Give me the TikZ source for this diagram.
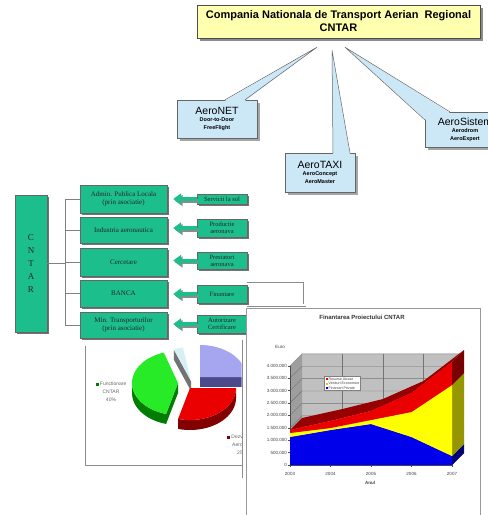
\documentclass[tikz,border=0pt]{standalone}
\usepackage{fontspec}
\setmainfont{Liberation Sans}
\newfontfamily\timesfont{Liberation Serif}
\usetikzlibrary{arrows.meta,shadows,calc}

\definecolor{titleyellow}{RGB}{255,255,176}
\definecolor{calloutblue}{RGB}{204,232,247}
\definecolor{orggreen}{RGB}{28,190,140}
\definecolor{piegreen}{RGB}{40,235,40}
\definecolor{piegreendark}{RGB}{0,125,0}
\definecolor{piered}{RGB}{235,0,0}
\definecolor{pieredside}{RGB}{130,0,0}
\definecolor{pieblue}{RGB}{165,165,240}
\definecolor{pieblueside}{RGB}{75,75,140}
\definecolor{piecyan}{RGB}{215,240,245}
\definecolor{areablue}{RGB}{0,0,235}
\definecolor{areabluedark}{RGB}{0,0,120}
\definecolor{areayellow}{RGB}{255,255,0}
\definecolor{areayellowdark}{RGB}{150,150,0}
\definecolor{areared}{RGB}{235,0,0}
\definecolor{arearedside}{RGB}{150,0,0}
\definecolor{wallgray}{RGB}{192,192,192}

\newcommand\subfont{\fontsize{5.5}{6}\selectfont\bfseries}

\begin{document}
\begin{tikzpicture}[x=1pt,y=-1pt,
  titlebox/.style={draw=black!70, fill=titleyellow, minimum width=283pt, minimum height=33pt, align=center, font=\fontsize{11}{13}\selectfont\bfseries, drop shadow={shadow xshift=3pt, shadow yshift=-3pt, fill=black!45, opacity=1}},
  callout/.style={draw=black!60, fill=calloutblue, align=center, inner sep=1pt, font=\fontsize{10.5}{8}\selectfont, drop shadow={shadow xshift=2.5pt, shadow yshift=-2.5pt, fill=black!35, opacity=1}},
  tipline/.style={draw=black!60, line width=0.5pt},
  orgbox/.style={draw=black!60, fill=orggreen, minimum width=87pt, align=center, inner sep=1pt, text=black!85, font=\timesfont\fontsize{7}{8}\selectfont, drop shadow={shadow xshift=2pt, shadow yshift=-2pt, fill=black!55, opacity=1}},
  tagbox/.style={draw=black!60, fill=orggreen, minimum width=50pt, align=center, inner sep=0.5pt, text=black!85, font=\timesfont\fontsize{6.5}{7}\selectfont, drop shadow={shadow xshift=1.5pt, shadow yshift=-1.5pt, fill=black!55, opacity=1}},
  treeline/.style={black!50, line width=0.5pt},
  tagarrow/.style={orggreen, line width=4pt, shorten >=6pt, -{Triangle[width=11pt,length=8pt]}},
  tagshadow/.style={black!45, line width=4pt, shorten >=6pt, -{Triangle[width=11pt,length=8pt]}},
  frameline/.style={black!45, line width=0.6pt},
  gridline/.style={black!55, line width=0.4pt},
  ylab/.style={anchor=east, inner sep=0.5pt, text=black!75, font=\fontsize{4.5}{5}\selectfont},
  xlab/.style={inner sep=0.5pt, text=black!75, font=\fontsize{4.5}{5}\selectfont}]
\useasboundingbox (0,0) rectangle (488,515);

% company and its three products
\node[titlebox] (title) at (338.5,21.5) {Compania Nationala de Transport Aerian\ \ Regional\\CNTAR};
\node[callout, minimum width=80pt, minimum height=38pt] (aeronet) at (217,119) {AeroNET\\[-1pt]\subfont Door-to-Door\\\subfont FreeFlight};
\node[callout, minimum width=70pt, minimum height=39pt] (aerotaxi) at (320,172.5) {AeroTAXI\\[-1pt]\subfont AeroConcept\\\subfont AeroMaster};
\node[callout, minimum width=80pt, minimum height=35pt] (aerosis) at (465,129.5) {AeroSistem\\[-1pt]\subfont Aerodrom\\\subfont AeroExpert};
\coordinate (tipnet) at ($(title.south)+(-21.5,9)$);
\coordinate (tiptaxi) at ($(title.south)+(-6.5,12)$);
\coordinate (tipsis) at ($(title.south)+(6.5,9)$);
\fill[calloutblue] ([xshift=8pt,yshift=-1pt]aeronet.north) -- (tipnet) -- ([xshift=28pt,yshift=-1pt]aeronet.north) -- cycle;
\draw[tipline] ([xshift=8pt]aeronet.north) -- (tipnet) -- ([xshift=28pt]aeronet.north);
\fill[calloutblue] ([xshift=13pt,yshift=-1pt]aerotaxi.north) -- (tiptaxi) -- ([xshift=30pt,yshift=-1pt]aerotaxi.north) -- cycle;
\draw[tipline] ([xshift=13pt]aerotaxi.north) -- (tiptaxi) -- ([xshift=30pt]aerotaxi.north);
\fill[calloutblue] ([xshift=25pt,yshift=-1pt]aerosis.north west) -- (tipsis) -- ([xshift=1pt,yshift=-8pt]aerosis.north west) -- ([xshift=1pt,yshift=-1pt]aerosis.north west) -- cycle;
\draw[tipline] ([xshift=25pt]aerosis.north west) -- (tipsis) -- ([yshift=-8pt]aerosis.north west);

% partners
\node[orgbox, minimum width=32pt, minimum height=137pt, font=\timesfont\fontsize{9}{12.8}\selectfont] (cntar) at (31,263.5) {C\\N\\T\\A\\R};
\node[orgbox, minimum height=28pt] (admin) at (123.5,199) {Admin. Publica Locala\\(prin asociatie)};
\node[orgbox, minimum height=26pt] (ind) at (123.5,230) {Industria aeronautica};
\node[orgbox, minimum height=28pt] (cerc) at (123.5,262) {Cercetare};
\node[orgbox, minimum height=27pt] (banca) at (123.5,293.5) {BANCA};
\node[orgbox, minimum height=26pt] (min) at (123.5,325) {Min. Transporturilor\\(prin asociatie)};
\coordinate (trunk) at (65,263.5);
\draw[treeline] (cntar.east) -- (trunk);
\draw[treeline] (admin.west -| trunk) -- (min.west -| trunk);
\foreach \b in {admin,ind,cerc,banca,min}
  \draw[treeline] (\b.west -| trunk) -- (\b.west);

\node[tagbox, minimum height=10pt] (serv) at (222,199) {Servicii la sol};
\node[tagbox, minimum height=18pt] (prod) at (222,228) {Productie\\aeronava};
\node[tagbox, minimum height=17pt] (prest) at (222,260.5) {Prestatori\\aeronava};
\node[tagbox, minimum height=18pt] (fin) at (222,294) {Finantare};
\node[tagbox, minimum height=18pt] (aut) at (222,324) {Autorizare\\Certificare};
\foreach \t/\o in {serv/admin,prod/ind,prest/cerc,fin/banca,aut/min} {
  \draw[tagshadow] ($(\t.west)+(1.5,1.5)$) -- ($(\t.west -| \o.east)+(1.5,1.5)$);
  \draw[tagarrow] (\t.west) -- (\t.west -| \o.east);
}
\draw[frameline] (fin.north east |- 0,282) -- (303,282) -- (303,304);
\draw[frameline] (fin.south east |- 0,306) -- (306,306);

% pie chart (partly hidden)
\draw[frameline] (85,346) -- (85,465) -- (242,465);
\draw[frameline] (242,340) -- (242,478);
\begin{scope}
  \clip (85.5,338) rectangle (241.5,464.5);
  \fill[pieblueside] (200,377) -- (246,377) -- (246,387) -- (200,387) -- cycle;
  \fill[pieblue] (200,377) -- plot[domain=0:90,samples=20] ({200+46*cos(\x)},{377-32*sin(\x)}) -- cycle;
  \fill[black!55] (191,381) -- ({191+46*cos(112)},{381-34*sin(112)}) -- ++(0,10) -- (191,391) -- cycle;
  \fill[piecyan] (191,381) -- plot[domain=100:112,samples=6] ({191+46*cos(\x)},{381-34*sin(\x)}) -- cycle;
  \fill[piegreendark] plot[domain=180:255,samples=20] ({178+46*cos(\x)},{383-32*sin(\x)}) -- plot[domain=255:180,samples=20] ({178+46*cos(\x)},{393-32*sin(\x)}) -- cycle;
  \fill[piegreendark] (178,383) -- ({178+46*cos(255)},{383-32*sin(255)}) -- ++(0,10) -- (178,393) -- cycle;
  \fill[piegreen] (178,383) -- plot[domain=108:255,samples=30] ({178+46*cos(\x)},{383-32*sin(\x)}) -- cycle;
  \fill[pieredside] plot[domain=255:360,samples=25] ({190+46*cos(\x)},{388-32*sin(\x)}) -- plot[domain=360:255,samples=25] ({190+46*cos(\x)},{398-32*sin(\x)}) -- cycle;
  \fill[piered] (190,388) -- plot[domain=255:360,samples=25] ({190+46*cos(\x)},{388-32*sin(\x)}) -- cycle;
  \node[align=center, inner sep=0pt, text=black!60, font=\fontsize{5}{8}\selectfont] (pgreen) at (111,392) {\textcolor{piegreendark}{\rule{3pt}{3pt}} Functionare\\CNTAR\\40\%};
  \node[align=right, anchor=east, inner sep=0pt, text=black!60, font=\fontsize{5}{8}\selectfont] (pred) at (243,445) {\textcolor{pieredside}{\rule{3pt}{3pt}} Dezv\\Aero\\25};
\end{scope}

% financing chart
\draw[black!40, fill=white, line width=0.6pt] (246,308) rectangle (480,520);
\node[font=\fontsize{6}{7}\selectfont\bfseries, text=black!80] (ctitle) at (362,317) {Finantarea Proiectului CNTAR};
\node[xlab] (euro) at (280,347) {Euro};
\fill[wallgray] (302,354) rectangle (464,453);
\fill[black!38] (290,366) -- (302,354) -- (302,453) -- (290,465) -- cycle;
\fill[black!50] (290,465) -- (302,453) -- (464,453) -- (452,465) -- cycle;
\foreach \k in {1,...,8}
  \draw[gridline] (290,{465-12.4*\k}) -- (302,{453-12.4*\k}) -- (464,{453-12.4*\k});
\foreach \i in {1,2,3}
  \draw[gridline] ({302+40.5*\i},354) -- ({302+40.5*\i},453);
\draw[black!70, line width=0.5pt] (290,366) -- (290,465) -- (452,465);
\foreach \v [count=\k from 0] in {0,500.000,1.000.000,1.500.000,2.000.000,2.500.000,3.000.000,3.500.000,4.000.000} {
  \draw[black!70, line width=0.4pt] (287.5,{465-12.4*\k}) -- (290,{465-12.4*\k});
  \node[ylab] (ylab\k) at (287.5,{465-12.4*\k}) {\v};
}
\foreach \yr [count=\i from 0] in {2003,2004,2005,2006,2007} {
  \draw[black!70, line width=0.4pt] ({290+40.5*\i},465) -- ({290+40.5*\i},467);
  \node[xlab] (xlab\i) at ({290+40.5*\i},474) {\yr};
}
\node[xlab, font=\fontsize{4.5}{5}\selectfont\bfseries] (anul) at (370,483) {Anul};
% stacked areas
\fill[arearedside] (290,430) -- (330.5,421) -- (371,411) -- (411.5,393) -- (452,362) -- (464,350) -- (423.5,381) -- (383,399) -- (342.5,409) -- (302,418) -- cycle;
\fill[areabluedark] (452,465) -- (464,453) -- (464,444) -- (452,456) -- cycle;
\fill[areayellowdark] (452,456) -- (464,444) -- (464,373) -- (452,385) -- cycle;
\fill[arearedside!80!black] (452,385) -- (464,373) -- (464,350) -- (452,362) -- cycle;
\fill[areablue] (290,465) -- (290,437) -- (330.5,430) -- (371,424) -- (411.5,437) -- (452,456) -- (452,465) -- cycle;
\fill[areayellow] (290,437) -- (330.5,430) -- (371,424) -- (411.5,437) -- (452,456) -- (452,385) -- (411.5,412) -- (371,420) -- (330.5,428) -- (290,433) -- cycle;
\fill[areared] (290,433) -- (330.5,428) -- (371,420) -- (411.5,412) -- (452,385) -- (452,362) -- (411.5,393) -- (371,411) -- (330.5,421) -- (290,430) -- cycle;
\node[draw=black!50, fill=white, align=left, inner sep=1.2pt, text=black!75, font=\fontsize{3.6}{4.6}\selectfont] (legend) at (342.5,383.5) {\textcolor{areared}{\rule{2pt}{2pt}} Resurse Atrase\\\textcolor{areayellow!80!black}{\rule{2pt}{2pt}} Venituri Economice\\\textcolor{areablue}{\rule{2pt}{2pt}} Finantari Private};
\end{tikzpicture}
\end{document}
